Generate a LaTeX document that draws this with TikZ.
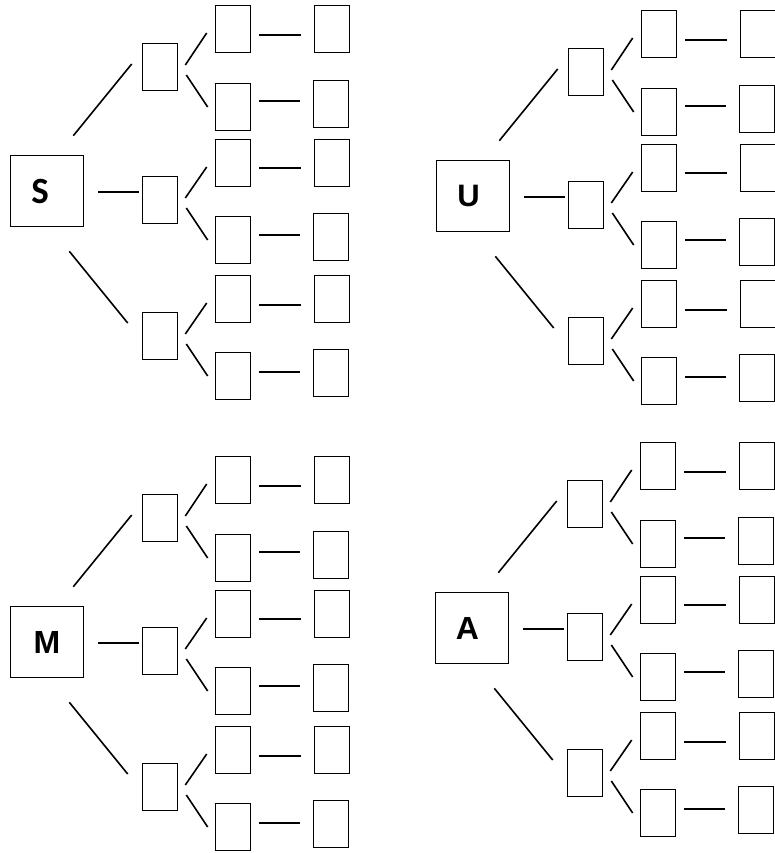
\documentclass[tikz,border=0pt]{standalone}
\usepackage{fontspec}
\setmainfont{Liberation Sans}
\newfontfamily\calfont{Carlito}
\usetikzlibrary{calc}
\tikzset{
  leafbox/.style={draw, line width=1.6pt, minimum width=35pt, minimum height=47pt, inner sep=0pt},
  rootbox/.style={draw, line width=1.6pt, minimum width=73pt, minimum height=71pt, inner sep=0pt},
  lettertext/.style={inner sep=0pt},
  conn/.style={line width=1.6pt, line cap=butt}
}
\newcommand\drawtree[7]{% prefix, dx, dy, letter, letter xshift, font, size
\begin{scope}[shift={(#2,#3)}]
  \node[rootbox] (#1r) at (47,191) {};
  \node[lettertext, font=#6\fontsize{#7}{#7}\selectfont\bfseries] (#1t) at ($(#1r.center)+(#5,0)$) {#4};
  \foreach \i/\y in {1/67,2/200,3/336}
    \node[leafbox] (#1l\i) at (160,\y) {};
  \foreach \i/\y in {1/29,2/107,3/163,4/240,5/299,6/376}
    \node[leafbox] (#1m\i) at (233,\y) {};
  \foreach \i/\x/\y in {1/332/29,2/331/104,3/332/163,4/331/237,5/332/299,6/331/373}
    \node[leafbox] (#1n\i) at (\x,\y) {};
  % root connectors
  \draw[conn] ($(#1r.north east)+(-11,-19)$) -- ($(#1l1.west)+(-10,-3)$);
  \draw[conn] ($(#1r.east)+(14,1)$) -- ($(#1l2.west)+(-3,-8)$);
  \draw[conn] ($(#1r.south east)+(-15,24)$) -- ($(#1l3.west)+(-14,-13)$);
  % level 1 to level 2
  \foreach \i/\a/\b in {1/1/2,2/3/4,3/5/6}{
    \draw[conn] ($(#1l\i.east)+(7,-2)$) -- ($(#1m\a.west)+(-8,4)$);
    \draw[conn] ($(#1l\i.east)+(8,8)$) -- ($(#1m\b.west)+(-7,0)$);
  }
  % level 2 to level 3
  \foreach \i/\p/\q in {1/6/6,2/-6/-3,3/5/5,4/-5/-2,5/6/6,6/-4/-1}
    \draw[conn] ($(#1m\i.east)+(8,\p)$) -- ($(#1n\i.west)+(-13,\q)$);
\end{scope}}
\begin{document}
\begin{tikzpicture}[x=1pt,y=-1pt]
  \useasboundingbox (0,0) rectangle (774,853);
  \fill[white] (0,0) rectangle (774,853);
  \drawtree{S}{0}{0}{S}{-7}{\calfont}{37}
  \drawtree{U}{426}{5}{U}{-4.5}{}{31}
  \drawtree{M}{0}{451}{M}{0}{}{32}
  \drawtree{A}{425}{437}{A}{-4.5}{}{32}
\end{tikzpicture}
\end{document}
